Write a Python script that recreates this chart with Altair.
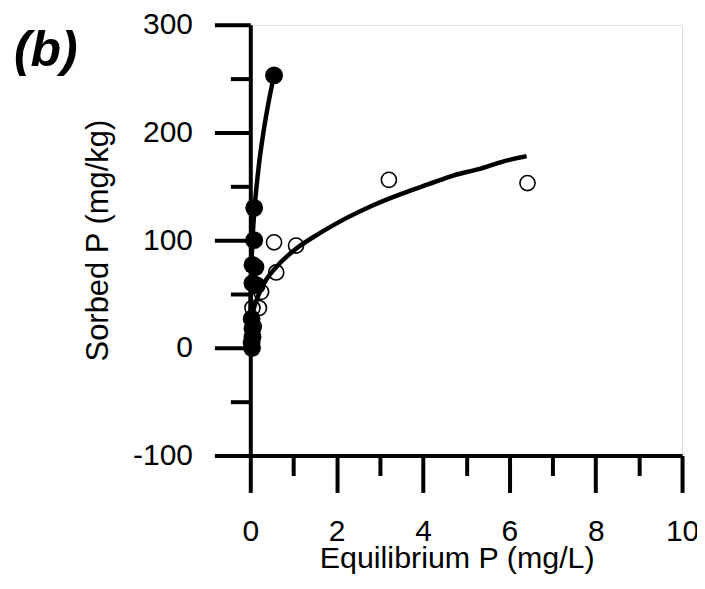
import altair as alt
import pandas as pd

# Measured points (Equilibrium P mg/L, Sorbed P mg/kg)
filled_x = [0.55, 0.09, 0.09, 0.05, 0.12, 0.05, 0.15, 0.03, 0.05, 0.05, 0.03, 0.04]
filled_y = [253, 130, 100, 77, 75, 60, 58, 27, 18, 10, 5, 0]
open_x = [6.42, 3.21, 1.06, 0.55, 0.6, 0.25, 0.05, 0.2, 0.08, 0.06]
open_y = [153, 156, 95, 98, 70, 52, 37, 37, 20, 10]

# Fitted curves
fitf_x = [0.002, 0.01, 0.03, 0.06, 0.1, 0.2, 0.3, 0.4, 0.55]
fitf_y = [28, 53, 81, 107, 130, 170, 199, 223, 253]
fito_x = [0.01, 0.03, 0.08, 0.15, 0.32, 0.6, 1.06, 1.59, 2.2, 2.82, 3.5, 4.13, 4.7, 5.29, 5.85, 6.4]
fito_y = [16, 25, 36, 45, 60, 75, 92, 106, 120, 132, 143, 152, 160, 166, 173, 178]

x_ticks = list(range(0, 11))
y_ticks = list(range(-100, 301, 50))

panel_label = ["(b)"]

FONT = "Liberation Sans"

pts_open = pd.DataFrame({"x": open_x, "y": open_y})
pts_filled = pd.DataFrame({"x": filled_x, "y": filled_y})
fit_f = pd.DataFrame({"x": fitf_x, "y": fitf_y})
fit_o = pd.DataFrame({"x": fito_x, "y": fito_y})
lab = pd.DataFrame({"t": panel_label})

x_axis = alt.Axis(
    values=x_ticks,
    labelExpr="datum.value % 2 === 0 ? datum.label : ''",
    tickSize={"condition": {"test": "datum.value % 2 === 0", "value": 37}, "value": 20},
    tickWidth=4, tickColor="black",
    domainWidth=4, domainColor="black",
    labelFont=FONT, labelFontSize=30, labelColor="black",
    labelBaseline="alphabetic", labelPadding=48,
    labelFlush=False, labelOverlap=False,
    title="Equilibrium P (mg/L)", titleFont=FONT, titleFontSize=30.5,
    titleFontWeight="normal", titleColor="black",
    titleX=207, titleY=112, titleAlign="center", titleBaseline="alphabetic",
    grid=False,
)
y_axis = alt.Axis(
    values=y_ticks,
    labelExpr="datum.value % 100 === 0 ? ('' + datum.value) : ''",
    tickSize={"condition": {"test": "datum.value % 100 === 0", "value": 36}, "value": 20},
    tickWidth=4, tickColor="black",
    domainWidth=4, domainColor="black",
    labelFont=FONT, labelFontSize=30, labelColor="black",
    labelPadding=22, labelFlush=False, labelOverlap=False,
    title="Sorbed P (mg/kg)", titleFont=FONT, titleFontSize=31,
    titleFontWeight="normal", titleColor="black",
    titleX=-143, titleY=216, titleAlign="center", titleBaseline="alphabetic", titleAngle=-90,
    grid=False,
)

xs = alt.Scale(domain=[0, 10], nice=False, zero=False)
ys = alt.Scale(domain=[-100, 300], nice=False, zero=False)

base_x = alt.X("x:Q", scale=xs, axis=x_axis)
base_y = alt.Y("y:Q", scale=ys, axis=y_axis)

open_layer = alt.Chart(pts_open).mark_point(
    shape="circle", filled=False, color="black", size=230, strokeWidth=1.6, opacity=1
).encode(x=base_x, y=base_y)

filled_layer = alt.Chart(pts_filled).mark_point(
    shape="circle", filled=True, color="black", size=320, opacity=1
).encode(x=base_x, y=base_y)

line_o = alt.Chart(fit_o).mark_line(color="black", strokeWidth=4.5, interpolate="monotone").encode(
    x=base_x, y=base_y
)
line_f = alt.Chart(fit_f).mark_line(color="black", strokeWidth=4.5, interpolate="monotone").encode(
    x=base_x, y=base_y
)

label_layer = alt.Chart(lab).mark_text(
    align="left", baseline="alphabetic", font=FONT, fontSize=50,
    fontStyle="italic", fontWeight="bold", color="black",
).encode(text="t:N", x=alt.value(-237), y=alt.value(41))

chart = alt.layer(open_layer, filled_layer, line_o, line_f, label_layer).properties(
    width=433,
    height=432,
    autosize=alt.AutoSizeParams(type="none"),
    padding={"left": 243, "top": 16, "right": 15, "bottom": 125},
).configure_view(stroke="transparent", strokeWidth=0).configure(background="white")

chart.save("out.html", embed_options={"renderer": "svg", "actions": False})
